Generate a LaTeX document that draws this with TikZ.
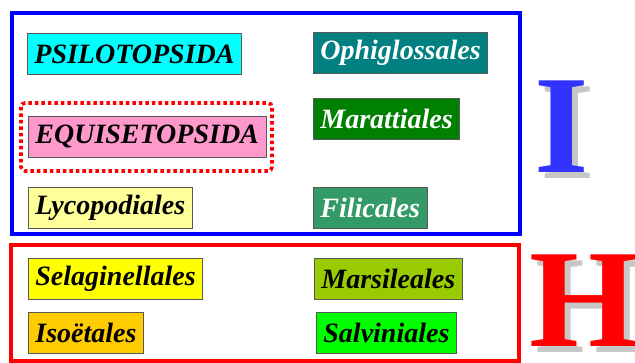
\documentclass[tikz,border=0pt]{standalone}
\usepackage{fontspec}
\setmainfont{Liberation Serif}
\usetikzlibrary{calc}

\definecolor{psilo}{HTML}{00FFFF}
\definecolor{equis}{HTML}{FF99CC}
\definecolor{lyco}{HTML}{FFFF99}
\definecolor{ophi}{HTML}{008080}
\definecolor{marat}{HTML}{008000}
\definecolor{fili}{HTML}{339966}
\definecolor{selag}{HTML}{FFFF00}
\definecolor{isoet}{HTML}{FFCC00}
\definecolor{marsi}{HTML}{99CC00}
\definecolor{salvi}{HTML}{00FF00}
\definecolor{frameblue}{HTML}{0000FF}
\definecolor{numblue}{HTML}{3333FF}
\definecolor{framered}{HTML}{FF0000}

\tikzset{
  taxon/.style={draw=black!65, line width=0.8pt, anchor=north west, minimum height=41pt,
    inner xsep=7pt, inner ysep=0pt, text=black,
    font=\fontsize{28}{28}\selectfont\bfseries\itshape},
  wtaxon/.style={taxon, text=white},
  numeral/.style={anchor=base west, inner sep=0pt,
    font=\fontsize{140}{140}\selectfont\bfseries},
  shade/.style={numeral, text=black!22}
}

\begin{document}
\begin{tikzpicture}[x=1pt,y=-1pt]
    \useasboundingbox (0,0) rectangle (635,363);

    \draw [frameblue, line width=4pt] (12,13) rectangle (520,234);
    \draw [framered, line width=4pt] (11,245) rectangle (519,361);

    \node [taxon, fill=psilo] (psilo) at (27,33) {PSILOTOPSIDA};
    \node [taxon, fill=equis] (equis) at (28,116) {EQUISETOPSIDA};
    \node [taxon, fill=lyco] (lyco) at (28,187) {Lycopodiales};
    \node [wtaxon, fill=ophi] (ophi) at (313,32) {Ophiglossales};
    \node [wtaxon, fill=marat] (marat) at (313,98) {Marattiales};
    \node [wtaxon, fill=fili] (fili) at (313,187) {Filicales};
    \draw [framered, line width=3.6pt, dash pattern=on 3.5pt off 3pt, rounded corners=4pt] (21,103) rectangle (272,171);

    \node [taxon, fill=selag] (selag) at (28,258) {Selaginellales};
    \node [taxon, fill=isoet] (isoet) at (28,312) {Isoëtales};
    \node [taxon, fill=marsi] (marsi) at (314,258) {Marsileales};
    \node [taxon, fill=salvi] (salvi) at (316,312) {Salviniales};

    \node [shade] (oneshade) at (540,179) {I};
    \node [numeral, text=numblue] (one) at (534,173) {I};
    \node [shade] (twoshade) at (535,353) {H};
    \node [numeral, text=framered] (two) at (529,347) {H};
\end{tikzpicture}
\end{document}
